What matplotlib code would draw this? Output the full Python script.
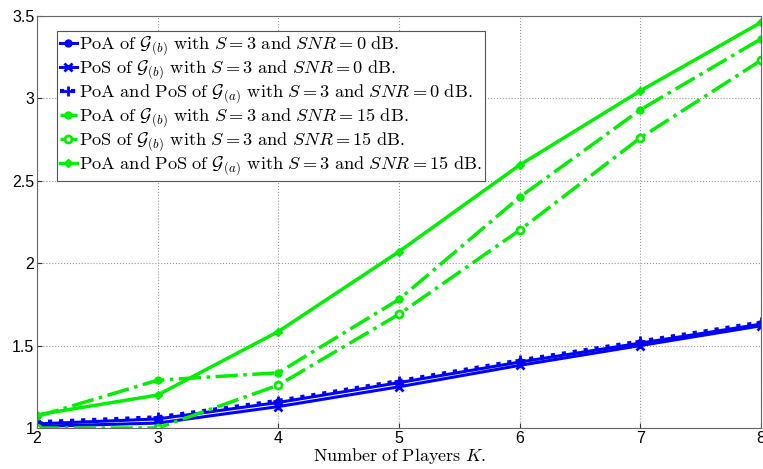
import numpy as np
import matplotlib.pyplot as plt

plt.rcParams['mathtext.fontset'] = 'cm'

K = [2, 3, 4, 5, 6, 7, 8]

# SNR = 0 dB
poa_b_0 = [1.025, 1.055, 1.155, 1.275, 1.400, 1.515, 1.630]
pos_b_0 = [1.010, 1.030, 1.130, 1.250, 1.380, 1.500, 1.620]
poa_a_0 = [1.035, 1.065, 1.165, 1.285, 1.410, 1.525, 1.640]

# SNR = 15 dB
poa_b_15 = [1.07, 1.29, 1.335, 1.78, 2.40, 2.93, 3.36]
pos_b_15 = [1.00, 1.00, 1.26, 1.69, 2.20, 2.76, 3.23]
poa_a_15 = [1.08, 1.20, 1.585, 2.07, 2.595, 3.045, 3.46]

labels = [
    r'$\mathrm{PoA\ of\ }\mathcal{G}_{(b)}\mathrm{\ with\ }S=3\mathrm{\ and\ }SNR=0\mathrm{\ dB.}$',
    r'$\mathrm{PoS\ of\ }\mathcal{G}_{(b)}\mathrm{\ with\ }S=3\mathrm{\ and\ }SNR=0\mathrm{\ dB.}$',
    r'$\mathrm{PoA\ and\ PoS\ of\ }\mathcal{G}_{(a)}\mathrm{\ with\ }S=3\mathrm{\ and\ }SNR=0\mathrm{\ dB.}$',
    r'$\mathrm{PoA\ of\ }\mathcal{G}_{(b)}\mathrm{\ with\ }S=3\mathrm{\ and\ }SNR=15\mathrm{\ dB.}$',
    r'$\mathrm{PoS\ of\ }\mathcal{G}_{(b)}\mathrm{\ with\ }S=3\mathrm{\ and\ }SNR=15\mathrm{\ dB.}$',
    r'$\mathrm{PoA\ and\ PoS\ of\ }\mathcal{G}_{(a)}\mathrm{\ with\ }S=3\mathrm{\ and\ }SNR=15\mathrm{\ dB.}$',
]

blue = '#0000ff'
green = '#00ee00'

fig = plt.figure(figsize=(7.63, 4.69), dpi=100)
ax = fig.add_axes([0.0485, 0.0874, 0.949, 0.879])

ax.plot(K, poa_b_0, '-', color=blue, lw=2.2, marker='o', ms=5, label=labels[0])
ax.plot(K, pos_b_0, '-', color=blue, lw=2.2, marker='x', ms=6, mew=2, label=labels[1])
ax.plot(K, poa_a_0, ':', color=blue, lw=3, marker='+', ms=7, mew=2, label=labels[2])
ax.plot(K, poa_b_15, '-.', color=green, lw=2.5, marker='o', ms=5, label=labels[3])
ax.plot(K, pos_b_15, '-.', color=green, lw=2.5, marker='o', ms=5, mfc='white', mew=2, label=labels[4])
ax.plot(K, poa_a_15, '-', color=green, lw=2.5, marker='D', ms=4.5, label=labels[5])

ax.set_xlim(2, 8)
ax.set_ylim(1, 3.5)
ax.set_xticks(K)
ax.set_yticks([1, 1.5, 2, 2.5, 3, 3.5])
ax.set_yticklabels(['1', '1.5', '2', '2.5', '3', '3.5'])
ax.tick_params(direction='in', labelsize=11.5, pad=2, colors='#333333', labelcolor='black')
for t in ax.get_xticklabels() + ax.get_yticklabels():
    t.set_family('Liberation Sans')
ax.grid(True, ls=':', color='#999999', lw=0.8)
for s in ax.spines.values():
    s.set_color('#666666')

ax.set_xlabel(r'$\mathrm{Number\ of\ Players\ }K.$', fontsize=13, labelpad=0)

leg = ax.legend(loc='upper left', bbox_to_anchor=(0.027, 0.963), fontsize=13.2,
                handlelength=0.9, handletextpad=0.1, borderpad=0.2, labelspacing=0.03,
                fancybox=False, framealpha=1, borderaxespad=0)
leg.get_frame().set_edgecolor('#555555')
leg.get_frame().set_linewidth(0.8)

fig.savefig('out.png', dpi=100)
